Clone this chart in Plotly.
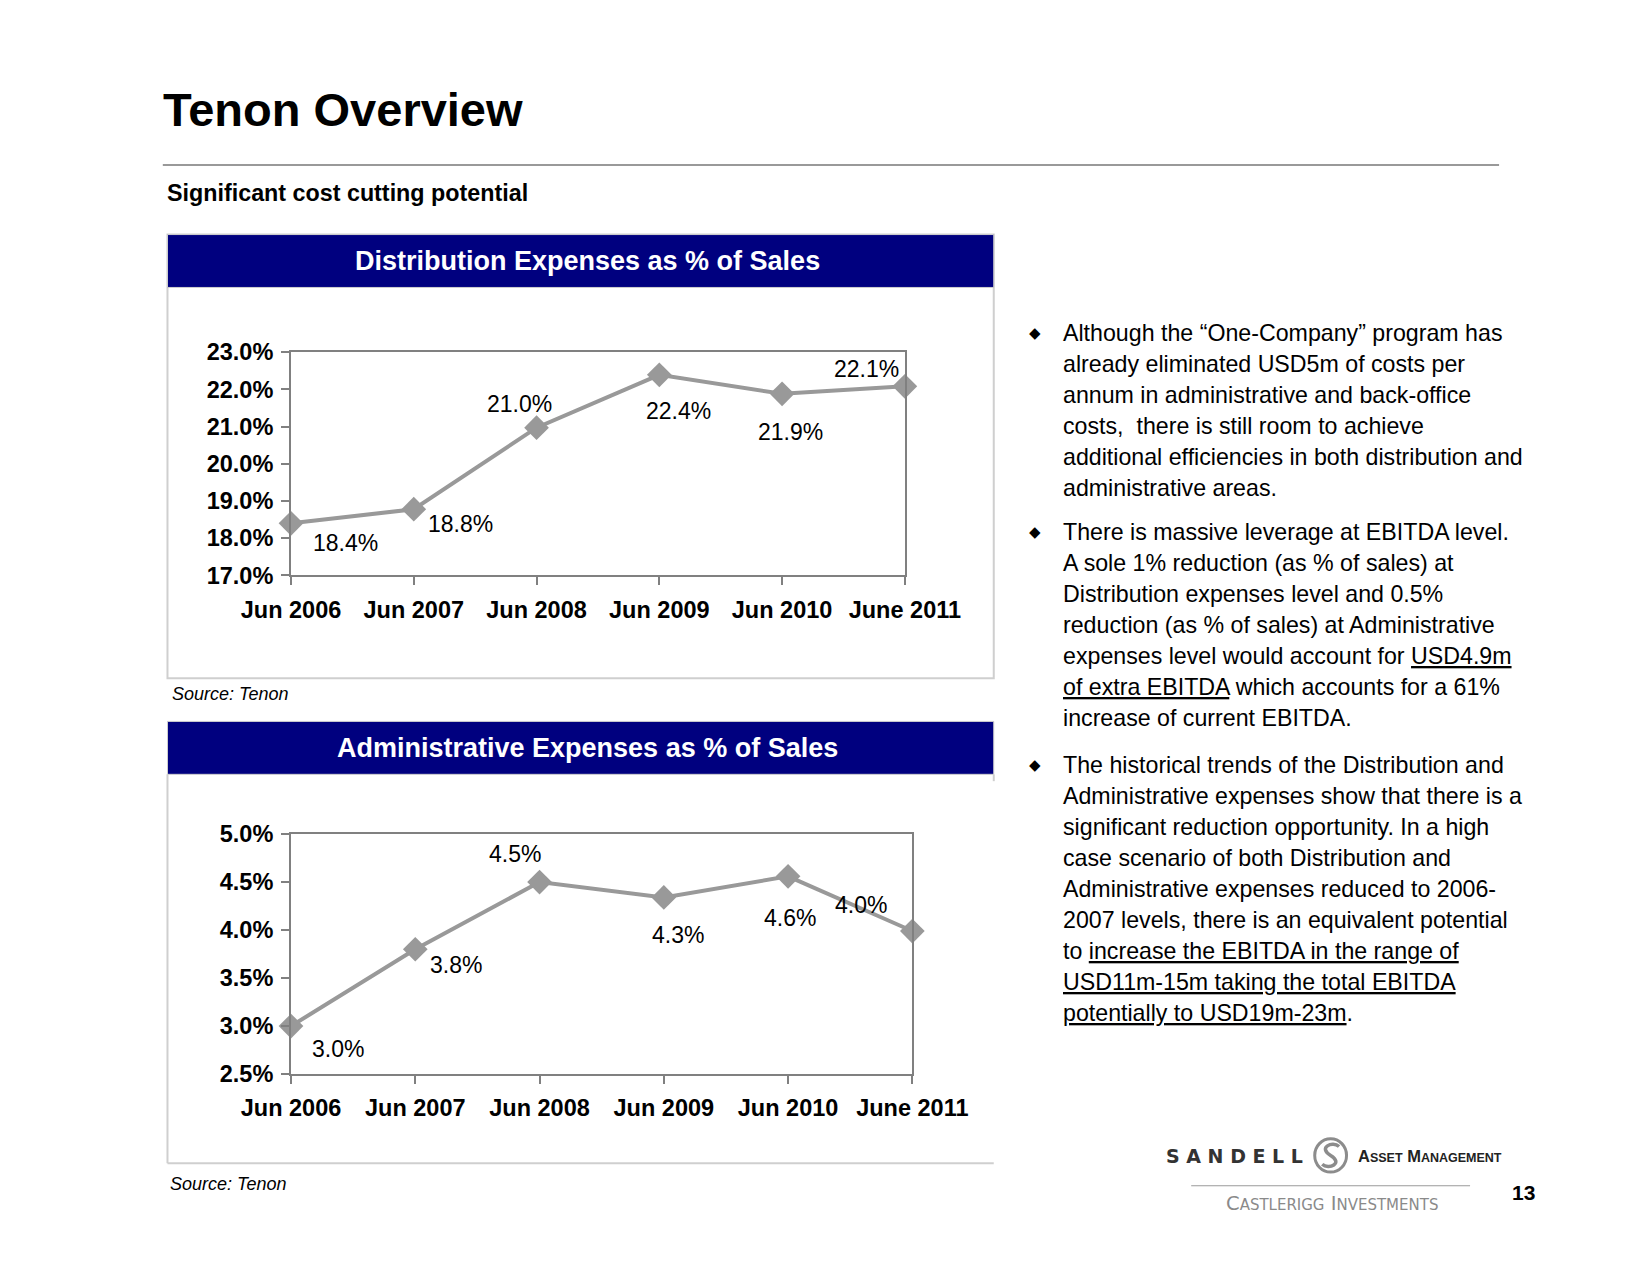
import plotly.graph_objects as go

# ---------------- data ----------------
categories = ["Jun 2006", "Jun 2007", "Jun 2008", "Jun 2009", "Jun 2010", "June 2011"]
dist_values = [18.4, 18.78, 20.97, 22.39, 21.88, 22.08]
admin_values = [3.0, 3.8, 4.5, 4.34, 4.56, 3.99]
dist_ticks = [17.0, 18.0, 19.0, 20.0, 21.0, 22.0, 23.0]
admin_ticks = [2.5, 3.0, 3.5, 4.0, 4.5, 5.0]

title_text = "Tenon Overview"
subtitle_text = "Significant cost cutting potential"
dist_title = "Distribution Expenses as % of Sales"
admin_title = "Administrative Expenses as % of Sales"
source_text = "Source: Tenon"

para1 = [
    "Although the \u201cOne-Company\u201d program has",
    "already eliminated USD5m of costs per",
    "annum in administrative and back-office",
    "costs,\u00a0 there is still room to achieve",
    "additional efficiencies in both distribution and",
    "administrative areas.",
]
para2 = [
    "There is massive leverage at EBITDA level.",
    "A sole 1% reduction (as % of sales) at",
    "Distribution expenses level and 0.5%",
    "reduction (as % of sales) at Administrative",
    "expenses level would account for <u>USD4.9m</u>",
    "<u>of extra EBITDA</u> which accounts for a 61%",
    "increase of current EBITDA.",
]
para3 = [
    "The historical trends of the Distribution and",
    "Administrative expenses show that there is a",
    "significant reduction opportunity. In a high",
    "case scenario of both Distribution and",
    "Administrative expenses reduced to 2006-",
    "2007 levels, there is an equivalent potential",
    "to <u>increase the EBITDA in the range of</u>",
    "<u>USD11m-15m taking the total EBITDA</u>",
    "<u>potentially to USD19m-23m</u>.",
]

# ---------------- layout helpers ----------------
W, H = 1650, 1275


def px(x):
    return x / W


def py(y):
    return 1 - y / H


FONT = "Liberation Sans, Arial, Helvetica, sans-serif"
NAVY = "#00007F"
LINE_GRAY = "#999999"
AXIS_GRAY = "#808080"
PANEL_GRAY = "#cfcfcf"
TICK_SIZE = 23.5
LABEL_SIZE = 23

dist_offsets = [(54, -20), (47, -15), (-17, 24), (19, -36), (8, -38), (-38, 17)]
admin_offsets = [(47, -23), (41, -16), (-25, 28), (14, -38), (2, -42), (-51, 26)]

fig = go.Figure()

series_style = dict(
    mode="lines+markers",
    line=dict(color=LINE_GRAY, width=4),
    marker=dict(symbol="diamond", size=19, color=LINE_GRAY),
    cliponaxis=False,
    showlegend=False,
    hoverinfo="skip",
)
fig.add_trace(go.Scatter(x=categories, y=dist_values, xaxis="x", yaxis="y", **series_style))
fig.add_trace(go.Scatter(x=categories, y=admin_values, xaxis="x2", yaxis="y2", **series_style))


def xaxis_cfg(left, right, anchor):
    return dict(
        domain=[px(left), px(right)], anchor=anchor, type="category", range=[0, 5],
        showline=True, mirror=True, linecolor=AXIS_GRAY, linewidth=2,
        ticks="outside", ticklen=8, tickwidth=1.5, tickcolor=AXIS_GRAY,
        tickfont=dict(family=FONT, size=TICK_SIZE, color="black", weight="bold"),
        ticklabelstandoff=4,
        showgrid=False, zeroline=False, fixedrange=True,
    )


def yaxis_cfg(top, bottom, anchor, rng, ticks):
    return dict(
        domain=[py(bottom), py(top)], anchor=anchor, range=rng,
        tickvals=ticks, ticktext=[f"{v:.1f}%" for v in ticks],
        showline=True, mirror=True, linecolor=AXIS_GRAY, linewidth=2,
        ticks="outside", ticklen=8, tickwidth=1.5, tickcolor=AXIS_GRAY,
        tickfont=dict(family=FONT, size=TICK_SIZE, color="black", weight="bold"),
        ticklabelstandoff=3,
        showgrid=False, zeroline=False, fixedrange=True,
    )


annotations = []
shapes = []

for cat, v, (dx, dy) in zip(categories, dist_values, dist_offsets):
    annotations.append(dict(x=cat, y=v, xref="x", yref="y", text=f"{v:.1f}%", showarrow=False,
                            xshift=dx, yshift=dy, font=dict(family=FONT, size=LABEL_SIZE, color="black")))
for cat, v, (dx, dy) in zip(categories, admin_values, admin_offsets):
    annotations.append(dict(x=cat, y=v, xref="x2", yref="y2", text=f"{v:.1f}%", showarrow=False,
                            xshift=dx, yshift=dy, font=dict(family=FONT, size=LABEL_SIZE, color="black")))


def text(x, y, s, size, xanchor="left", color="black", weight="normal", style="normal", family=FONT):
    annotations.append(dict(x=px(x), y=py(y), xref="paper", yref="paper", text=s, showarrow=False,
                            xanchor=xanchor, yanchor="middle",
                            font=dict(family=family, size=size, color=color, weight=weight, style=style)))


def rect(x0, y0, x1, y1, fill=None, line=None, lw=0, layer="below"):
    shapes.append(dict(type="rect", xref="paper", yref="paper", x0=px(x0), x1=px(x1), y0=py(y1), y1=py(y0),
                       fillcolor=fill if fill else "rgba(0,0,0,0)",
                       line=dict(color=line if line else "rgba(0,0,0,0)", width=lw), layer=layer))


def hline(x0, x1, y, color, w):
    shapes.append(dict(type="line", xref="paper", yref="paper", x0=px(x0), x1=px(x1), y0=py(y), y1=py(y),
                       line=dict(color=color, width=w)))


def vline(x, y0, y1, color, w):
    shapes.append(dict(type="line", xref="paper", yref="paper", x0=px(x), x1=px(x), y0=py(y0), y1=py(y1),
                       line=dict(color=color, width=w)))


# title & subtitle
text(110, 90, "<b>" + title_text + "</b>", 47)
hline(112, 1540, 147, LINE_GRAY, 2)
text(114, 176, "<b>" + subtitle_text + "</b>", 23.3)

# panel 1
rect(117, 218, 1000, 671, line=PANEL_GRAY, lw=2)
rect(117, 218, 1000, 272, fill=NAVY, line=PANEL_GRAY, lw=1)
text(566, 245, "<b>" + dist_title + "</b>", 27, xanchor="center", color="white")
text(120, 687, "<i>" + source_text + "</i>", 18)

# panel 2
rect(117, 715, 1000, 769, fill=NAVY, line=PANEL_GRAY, lw=1)
vline(117, 769, 1166, PANEL_GRAY, 2)
hline(117, 1000, 1166, PANEL_GRAY, 2)
vline(1000, 769, 776, PANEL_GRAY, 2)
text(566, 742, "<b>" + admin_title + "</b>", 27, xanchor="center", color="white")
text(118, 1187, "<i>" + source_text + "</i>", 18)

# bullet text
STEP = 31.65
for start, lines in ((318, para1), (522, para2), (759, para3)):
    text(1036, start, "\u25c6", 15, family="DejaVu Sans")
    for i, ln in enumerate(lines):
        text(1072, start + i * STEP, ln, 23.2)

# logo
text(1182, 1159, "S A N D E L L", 19, color="#333333", weight="bold", family="DejaVu Sans")
text(1387, 1159, "A<span style='font-size:12.5px'>SSET</span> M<span style='font-size:12.5px'>ANAGEMENT</span>",
     16.5, color="#222222", weight="bold", family=FONT)
hline(1211, 1509, 1189, "#9a9a9a", 1.2)
text(1361, 1207, "C<span style='font-size:15px'>ASTLERIGG</span> I<span style='font-size:15px'>NVESTMENTS</span>",
     19.5, xanchor="center", color="#8a8a8a", family="DejaVu Sans")
cx, cy, r = 1360, 1158, 17
shapes.append(dict(type="circle", xref="paper", yref="paper", x0=px(cx - r), x1=px(cx + r),
                   y0=py(cy + r), y1=py(cy - r), line=dict(color="#8c8c8c", width=3)))
s_path = "M {} {} C {} {} {} {} {} {} C {} {} {} {} {} {}".format(
    px(cx + 9), py(cy - 9),
    px(cx + 2), py(cy - 15), px(cx - 14), py(cy - 8), px(cx), py(cy),
    px(cx + 14), py(cy + 8), px(cx - 2), py(cy + 15), px(cx - 9), py(cy + 9),
)
shapes.append(dict(type="path", xref="paper", yref="paper", path=s_path, line=dict(color="#8c8c8c", width=3.5)))

# page number
text(1566, 1196, "<b>13</b>", 21, xanchor="center")

fig.update_layout(
    width=W, height=H, margin=dict(l=0, r=0, t=0, b=0),
    paper_bgcolor="white", plot_bgcolor="white",
    xaxis=xaxis_cfg(249, 905, "y"),
    yaxis=yaxis_cfg(338, 566, "x", [17, 23], dist_ticks),
    xaxis2=xaxis_cfg(249, 913, "y2"),
    yaxis2=yaxis_cfg(830, 1075, "x2", [2.5, 5.0], admin_ticks),
    annotations=annotations, shapes=shapes,
    font=dict(family=FONT),
)

fig.write_html("out.html")
